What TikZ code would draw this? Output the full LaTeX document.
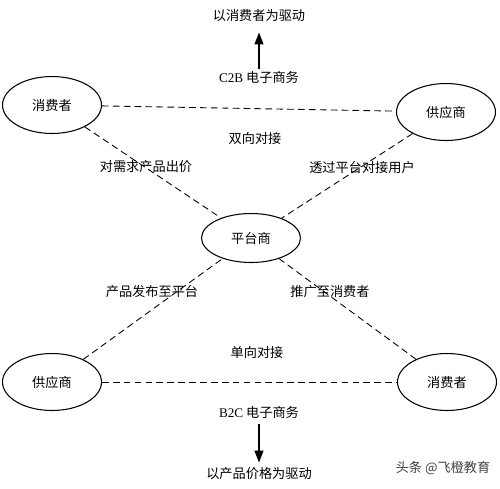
\documentclass[tikz,border=0pt]{standalone}
\usepackage{fontspec}
\setmainfont{Liberation Serif}
\newfontfamily\cjk{Noto Sans CJK SC}
\usetikzlibrary{arrows.meta,shapes.geometric}
\begin{document}
\begin{tikzpicture}[x=0.02cm, y=-0.02cm,
    every node/.style={font=\cjk\fontsize{7.5}{8}\selectfont, inner sep=0pt},
    party/.style={draw, ellipse, line width=0.6pt, minimum width=1.98cm, minimum height=1.14cm},
    link/.style={dash pattern=on 3.8pt off 2.4pt, line width=0.5pt},
    drive/.style={-{Triangle[length=0.24cm, width=0.18cm]}, line width=0.7pt}]
    \useasboundingbox (0,0) rectangle (500,488);
    \node[party] (cons1) at (52,105) {消费者};
    \node[party] (supp1) at (446,112) {供应商};
    \node[party, minimum height=0.98cm] (plat) at (251,238) {平台商};
    \node[party] (supp2) at (52,382) {供应商};
    \node[party] (cons2) at (447,382) {消费者};
    \draw[link] (cons1) -- (supp1);
    \draw[link] (supp2) -- (cons2);
    \draw[link] (cons1) -- (plat);
    \draw[link] (supp1) -- (plat);
    \draw[link] (supp2) -- (plat);
    \draw[link] (cons2) -- (plat);
    \node (c2bgoal) at (259,16) {以消费者为驱动};
    \node (c2b) at (259,77) {{\rmfamily C2B} 电子商务};
    \draw[drive, shorten <=1pt, shorten >=0.2cm] (c2b) -- (c2bgoal);
    \node (b2c) at (259,412) {{\rmfamily B2C} 电子商务};
    \node (b2cgoal) at (259,474) {以产品价格为驱动};
    \draw[drive, shorten <=0.12cm, shorten >=0.1cm] (b2c) -- (b2cgoal);
    \node at (255,138) {双向对接};
    \node at (146,167) {对需求产品出价};
    \node at (362,167) {透过平台对接用户};
    \node at (152,292) {产品发布至平台};
    \node at (330,292) {推广至消费者};
    \node at (257,352) {单向对接};
    \node[text=black!75] at (443,468) {头条 @飞橙教育};
\end{tikzpicture}
\end{document}
